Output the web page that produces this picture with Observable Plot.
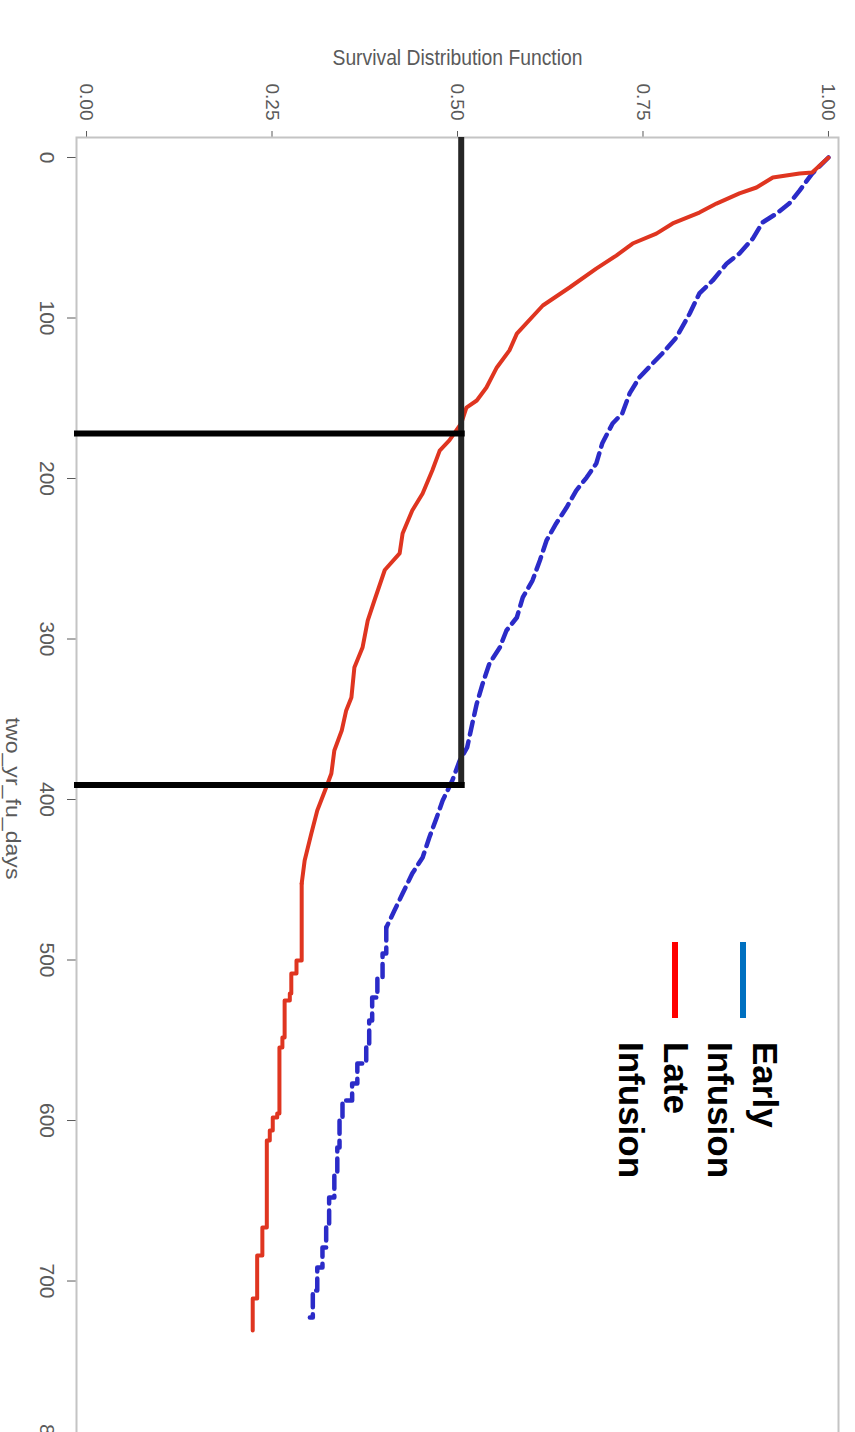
<!DOCTYPE html>
<html><head><meta charset="utf-8">
<script src="https://cdn.jsdelivr.net/npm/d3@7"></script>
<script src="https://cdn.jsdelivr.net/npm/@observablehq/plot@0.6"></script>
<style>
html,body{margin:0;padding:0;background:#fff;overflow:hidden;width:855px;height:1432px;}
#rot{position:absolute;left:0;top:0;width:1480px;height:855px;transform-origin:0 0;transform:translate(855px,0) rotate(90deg);background:#fff;}
#chart{position:absolute;left:0;top:0;}
.sw{position:absolute;left:942px;width:76px;height:6px;}
.lgtxt{position:absolute;left:1042px;top:68px;font:bold 35px "Liberation Sans",Arial,sans-serif;line-height:44.5px;color:#000;white-space:nowrap;}
</style></head>
<body>
<div id="rot"><div id="chart"></div><div id="legend"></div></div>
<script>
// ---- data ----
const dayTicks = [0, 100, 200, 300, 400, 500, 600, 700, 800];
const survTicks = [0, 0.25, 0.5, 0.75, 1];
const seriesNames = ["Early Infusion", "Late Infusion"];
const legendColors = ["#0070C0", "#FF0000"];

const earlyDays = [0, 10, 20.6, 28.7, 34.9, 40.5, 50.5, 59.8, 66.0, 76.6, 84.7, 97.2, 112.1, 122.1, 128.3, 137.1, 147.0, 159.5, 165.7, 178.2, 190.7, 199.4, 207.5, 218.1, 228.0, 238.6, 251.1, 263.6, 274.1, 286.6, 294.7, 305.3, 315.3, 327.7, 340.2, 352.6, 367.6, 375.7, 388.2, 400.6, 411.2, 423.7, 436.1, 446.1, 458.6, 469.2, 479.8, 496.0, 510.9, 523.4, 537.7, 552.0, 564.5, 576.9, 587.5, 600.0, 616.8, 633.0, 648.0, 664.2, 679.1, 691.6, 705.9, 722.7];
const earlySurv = [1.0, 0.978, 0.961, 0.947, 0.930, 0.911, 0.898, 0.880, 0.863, 0.844, 0.826, 0.813, 0.795, 0.776, 0.763, 0.745, 0.732, 0.722, 0.709, 0.695, 0.687, 0.674, 0.660, 0.647, 0.633, 0.620, 0.611, 0.601, 0.588, 0.580, 0.566, 0.557, 0.543, 0.534, 0.526, 0.520, 0.513, 0.503, 0.493, 0.480, 0.472, 0.462, 0.453, 0.439, 0.426, 0.415, 0.404, 0.399, 0.392, 0.385, 0.381, 0.377, 0.365, 0.358, 0.345, 0.341, 0.338, 0.334, 0.327, 0.323, 0.318, 0.311, 0.305, 0.301];

const lateDays = [0, 9.3, 10, 12.5, 18.7, 22.4, 28.7, 34.3, 41.1, 47.4, 53.6, 61.1, 69.2, 81.0, 92.2, 109.7, 120.2, 130.8, 143.3, 151.4, 155.8, 165.7, 176.3, 182.6, 195.0, 209.3, 219.9, 234.3, 246.7, 257.0, 276.0, 288.5, 305.3, 317.8, 336.4, 344.5, 357.0, 369.5, 383.8, 392.5, 406.9, 421.2, 438.0, 452.3, 500.3, 508.4, 520.9, 525.2, 548.3, 554.5, 595.6, 598.1, 606.2, 612.5, 666.7, 684.1, 710.9, 730.8];
const lateSurv = [1.0, 0.978, 0.961, 0.925, 0.903, 0.880, 0.849, 0.826, 0.790, 0.768, 0.736, 0.714, 0.687, 0.651, 0.615, 0.580, 0.570, 0.553, 0.539, 0.526, 0.512, 0.505, 0.489, 0.476, 0.466, 0.453, 0.439, 0.426, 0.422, 0.402, 0.388, 0.379, 0.372, 0.361, 0.357, 0.350, 0.344, 0.334, 0.330, 0.323, 0.311, 0.303, 0.294, 0.290, 0.283, 0.276, 0.274, 0.267, 0.264, 0.260, 0.257, 0.251, 0.247, 0.243, 0.237, 0.230, 0.224, 0.224];

const medianDays = [172, 391];   // late, early
const medianLevel = 0.505;

// ---- chart (drawn unrotated, then the whole figure is turned 90° clockwise) ----
const xDomain = [-12.46, 811.2];
const yDomain = [-0.0135, 1.0135];
const earlyStepFrom = 479.8;   // dense part drawn as a smooth trace, sparse tail as steps
const lateStepFrom = 452.3;
const early = earlyDays.map((d, i) => ({day: d, surv: earlySurv[i]}));
const late = lateDays.map((d, i) => ({day: d, surv: lateSurv[i]}));

const blue = {stroke: "#2b2bc8", strokeWidth: 4.5, strokeDasharray: "13,7"};
const red = {stroke: "#df3520", strokeWidth: 4};
const grey = "#5a5a5a";

const chart = Plot.plot({
  width: 1480, height: 855,
  marginLeft: 137, marginRight: 21, marginTop: 16, marginBottom: 77,
  style: {fontFamily: "'Liberation Sans', Arial, sans-serif", fontSize: "19px", color: grey, background: "#fff"},
  x: {domain: xDomain, ticks: dayTicks, tickSize: 10, tickPadding: 12, label: null, tickFormat: d => String(d)},
  y: {domain: yDomain, ticks: survTicks, tickSize: 6, tickPadding: 11, label: null, tickFormat: d => d.toFixed(2)},
  marks: [
    Plot.frame({stroke: "#c4c4c4", strokeWidth: 2}),
    Plot.line(early, {filter: d => d.day <= earlyStepFrom, x: "day", y: "surv", curve: "linear", ...blue}),
    Plot.line(early, {filter: d => d.day >= earlyStepFrom, x: "day", y: "surv", curve: "step-after", ...blue}),
    Plot.line(late, {filter: d => d.day <= lateStepFrom, x: "day", y: "surv", curve: "linear", ...red}),
    Plot.line(late, {filter: d => d.day >= lateStepFrom, x: "day", y: "surv", curve: "step-after", ...red}),
    Plot.ruleY([medianLevel], {x1: xDomain[0], x2: medianDays[1], stroke: "#262626", strokeWidth: 6}),
    Plot.ruleX(medianDays, {y1: yDomain[0], y2: medianLevel, stroke: "#000", strokeWidth: 6, strokeLinecap: "square"}),
    Plot.text(["Survival Distribution Function"], {text: d => d, frameAnchor: "left", dx: -80, rotate: -90, textAnchor: "middle", fontSize: 22, fill: grey}),
    Plot.text(["two_yr_fu_days"], {text: d => d, frameAnchor: "bottom", dy: 64, textAnchor: "middle", lineAnchor: "middle", fontSize: 20, fill: grey})
  ]
});
document.getElementById("chart").appendChild(chart);

// condensed / stretched look of the original axis texts
d3.select(chart).selectAll("text").each(function() {
  const s = this.textContent;
  if (s === "Survival Distribution Function") d3.select(this).attr("textLength", 250).attr("lengthAdjust", "spacingAndGlyphs");
  if (s === "two_yr_fu_days") d3.select(this).attr("textLength", 162).attr("lengthAdjust", "spacingAndGlyphs");
  if (dayTicks.map(String).includes(s)) d3.select(this).attr("font-size", 21);
});

// ---- legend ----
const lg = document.getElementById("legend");
const swTops = [109, 177];
seriesNames.forEach((n, i) => {
  const s = document.createElement("div");
  s.className = "sw";
  s.style.top = swTops[i] + "px";
  s.style.background = legendColors[i];
  lg.appendChild(s);
});
const t = document.createElement("div");
t.className = "lgtxt";
t.innerHTML = seriesNames.map(n => n.split(" ").join("<br>")).join("<br>");
lg.appendChild(t);
</script>
</body></html>
